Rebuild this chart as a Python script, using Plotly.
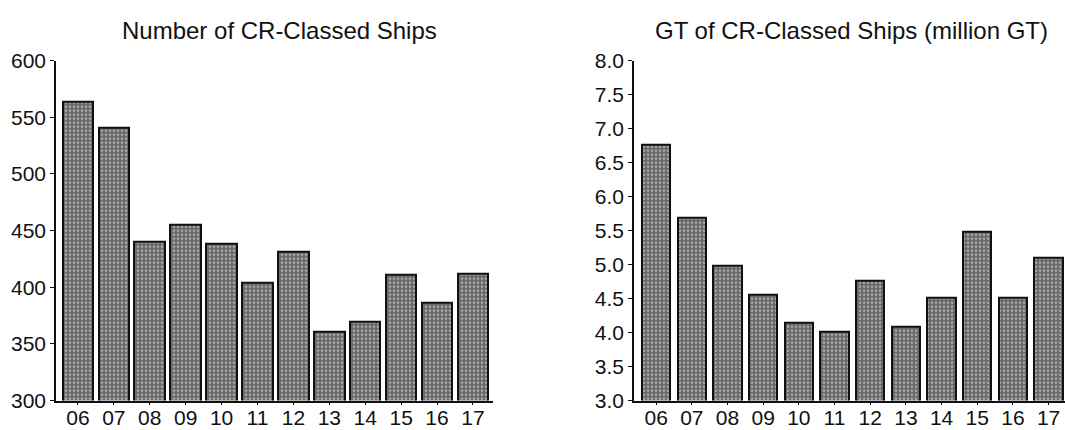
import plotly.graph_objects as go

years = ["06", "07", "08", "09", "10", "11", "12", "13", "14", "15", "16", "17"]
num_ships = [564, 541, 440, 455, 438, 404, 431, 361, 370, 411, 386, 412]
gt_million = [6.76, 5.69, 4.98, 4.56, 4.15, 4.01, 4.76, 4.08, 4.51, 5.48, 4.52, 5.10]
title_left = "Number of CR-Classed Ships"
title_right = "GT of CR-Classed Ships (million GT)"

FONT = "Liberation Sans, Arial, Helvetica, sans-serif"
W, H = 1065, 430

bar_marker = dict(
    color="#666666",
    line=dict(color="#111111", width=2),
    pattern=dict(shape=".", fgcolor="#f2f2f2", size=4, solidity=0.35),
)

fig = go.Figure()
fig.add_trace(go.Bar(x=list(range(len(years))), y=num_ships, width=0.85,
                     marker=bar_marker, xaxis="x", yaxis="y", showlegend=False))
fig.add_trace(go.Bar(x=list(range(len(years))), y=gt_million, width=0.79,
                     marker=bar_marker, xaxis="x2", yaxis="y2", showlegend=False))

axis_common = dict(
    automargin=False,
    showline=True, linecolor="#111111", linewidth=1.5, showgrid=False, zeroline=False,
    ticks="outside", ticklen=4, tickcolor="#111111", tickwidth=1,
    tickfont=dict(family=FONT, size=21, color="#111111"),
)
x_extra = dict(ticklen=3, ticklabelstandoff=-5)

# plot area: top at 60.7px, bottom at 400.5px (from top of page)
y_dom = [(H - 400.5) / H, (H - 60.7) / H]

fig.update_layout(
    width=W, height=H,
    margin=dict(l=0, r=0, t=0, b=0, autoexpand=False),
    paper_bgcolor="white", plot_bgcolor="white",
    bargap=0,
    xaxis=dict(domain=[56 / W, 492.7 / W], anchor="y",
               range=[-0.61, 11.55], tickmode="array",
               tickvals=list(range(len(years))), ticktext=years,
               **{**axis_common, **x_extra}),
    yaxis=dict(domain=y_dom, anchor="x",
               range=[300, 600], tickmode="array",
               tickvals=[300, 350, 400, 450, 500, 550, 600], **axis_common),
    xaxis2=dict(domain=[634 / W, 1.0], anchor="y2",
                range=[-0.62, 11.46], tickmode="array",
                tickvals=list(range(len(years))), ticktext=years,
                **{**axis_common, **x_extra}),
    yaxis2=dict(domain=y_dom, anchor="x2",
                range=[3.0, 8.0], tickmode="array",
                tickvals=[3.0, 3.5, 4.0, 4.5, 5.0, 5.5, 6.0, 6.5, 7.0, 7.5, 8.0],
                tickformat=".1f", **axis_common),
    annotations=[
        dict(text=title_left, x=279 / W, y=1 - 31 / H, xref="paper", yref="paper",
             xanchor="center", yanchor="middle", showarrow=False,
             font=dict(family=FONT, size=24, color="#111111")),
        dict(text=title_right, x=851 / W, y=1 - 31 / H, xref="paper", yref="paper",
             xanchor="center", yanchor="middle", showarrow=False,
             font=dict(family=FONT, size=24, color="#111111")),
    ],
)

fig.write_html(
    "out.html",
    config={"displayModeBar": False},
    post_script="document.body.style.margin='0';document.body.style.overflow='hidden';",
)
